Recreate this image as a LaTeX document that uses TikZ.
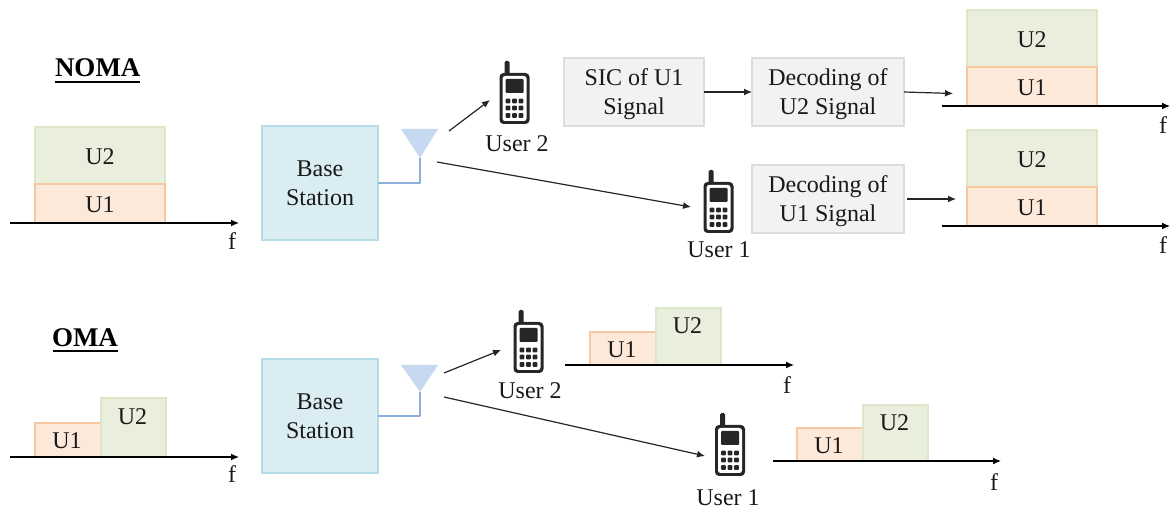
\documentclass[tikz,border=0pt]{standalone}
\usepackage{fontspec}
\setmainfont{Liberation Serif}
\usetikzlibrary{arrows.meta}
\definecolor{grnfill}{HTML}{E9EFDC}
\definecolor{grnline}{HTML}{DCE7C9}
\definecolor{orgfill}{HTML}{FDE9DA}
\definecolor{orgline}{HTML}{F9C79F}
\definecolor{bsfill}{HTML}{DAEDF3}
\definecolor{bsline}{HTML}{B5DDE8}
\definecolor{grayfill}{HTML}{F2F2F2}
\definecolor{grayline}{HTML}{DCDCDC}
\definecolor{antfill}{HTML}{C6D9F1}
\definecolor{antline}{HTML}{8EB0DC}
\definecolor{phonecol}{HTML}{262626}
\tikzset{
  x=1pt,y=-1pt,
  txt/.style={font=\fontsize{24}{29}\selectfont,text=black!90,inner sep=0pt,outer sep=0pt},
  ptxt/.style={txt,align=center,yshift=-2.5pt},
  boxbase/.style={txt,anchor=north west,align=center,line width=1.2pt},
  uone/.style={boxbase,draw=orgline,fill=orgfill},
  utwo/.style={boxbase,draw=grnline,fill=grnfill},
  bs/.style={boxbase,draw=bsline,fill=bsfill,line width=2.4pt,minimum width=116pt,minimum height=114pt},
  proc/.style={boxbase,draw=grayline,fill=grayfill,line width=2.4pt,minimum height=68pt},
  conn/.style={-{Latex[length=8pt,width=7pt]},line width=1.2pt,black!85},
  axisline/.style={-{Latex[length=8pt,width=7pt]},line width=1.3pt,black},
  feed/.style={line width=1.8pt,antline,line join=round},
  ant/.style={fill=antfill,draw=none},
  title/.style={font=\fontsize{27}{30}\selectfont\bfseries,inner sep=0pt,outer sep=0pt},
  rule/.style={line width=2.6pt,black},
  pics/phone/.style={code={
    \fill[phonecol,rounded corners=1.5pt] (-10,-31) rectangle (-5,-17);
    \fill[phonecol,rounded corners=4pt] (-15,-19) rectangle (15,32);
    \fill[white,rounded corners=2.5pt] (-12,-16) rectangle (12,29);
    \fill[phonecol,rounded corners=1pt] (-9,-13) rectangle (9,1);
    \foreach \r in {9,16,23.5}{
      \foreach \c in {-6.5,0,6.5}{
        \fill[phonecol,rounded corners=1pt] (\c-2.4,\r-2.4) rectangle (\c+2.4,\r+2.4);
      }
    }
  }}
}
\newcommand{\stackboxes}[9]{%
  \node[utwo,minimum width=130pt,minimum height=#3-#2] (#5u2) at (#1,#2) {};
  \node[txt] at (#1+65,{(#2+#3)/2+1}) {U2};
  \node[uone,minimum width=130pt,minimum height=#4-#3] (#5u1) at (#1,#3) {};
  \node[txt] at (#1+65,{(#3+#4)/2+1}) {U1};
  \coordinate (#5a) at (#6,#4);
  \coordinate (#5b) at (#7,#4);
  \draw[axisline] (#5a) -- (#5b);
  \node[txt] (#5f) at (#8,#9) {f};
}
\newcommand{\stepboxes}[9]{%
  \node[uone,minimum width=66pt,minimum height=#4-#3] (#5u1) at (#1,#3) {};
  \node[txt] at (#1+32,{(#3+#4)/2+1}) {U1};
  \node[utwo,minimum width=65pt,minimum height=#4-#2] (#5u2) at (#1+66,#2) {};
  \node[txt] at (#1+97.5,{(#2+#3)/2+6}) {U2};
  \coordinate (#5a) at (#6,#4);
  \coordinate (#5b) at (#7,#4);
  \draw[axisline] (#5a) -- (#5b);
  \node[txt] (#5f) at (#8,#9) {f};
}
\begin{document}
\begin{tikzpicture}
\useasboundingbox (0,0) rectangle (1171,510);
% titles
\node[title,anchor=west] (noma) at (55,68) {NOMA};
\coordinate (nomaA) at (55,82);\coordinate (nomaB) at (140,82);
\draw[rule] (nomaA) -- (nomaB);
\node[title,anchor=west] (oma) at (52,338) {OMA};
\coordinate (omaA) at (53,351);\coordinate (omaB) at (118,351);
\draw[rule] (omaA) -- (omaB);
% NOMA
\stackboxes{35}{127}{184}{223}{a}{10}{239}{232}{241}
\node[bs] (bs1) at (262,126) {Base\\Station};
\coordinate (t1a) at (401,129);\coordinate (t1b) at (438,129);\coordinate (t1c) at (420,158);
\fill[ant] (t1a) -- (t1b) -- (t1c) -- cycle;
\draw[feed] (t1c) -- (420,183) -- (bs1.east |- 0,183);
\pic at (514.5,92) {phone};
\coordinate (p2a) at (490,100);
\node[txt] (u2a) at (517,144) {User 2};
\pic at (718.5,201) {phone};
\coordinate (p1a) at (691,207);
\node[txt] (u1a) at (719,250) {User 1};
\coordinate (s1) at (449,131);\coordinate (s2) at (437,162);
\draw[conn] (s1) -- (p2a);
\draw[conn] (s2) -- (p1a);
\node[proc,minimum width=140pt,label={[ptxt]center:{SIC of U1\\Signal}}] (sic) at (564,58) {};
\node[proc,minimum width=152pt,label={[ptxt]center:{Decoding of\\U2 Signal}}] (d2) at (752,58) {};
\node[proc,minimum width=152pt,label={[ptxt]center:{Decoding of\\U1 Signal}}] (d1) at (752,165) {};
\stackboxes{967}{10}{67}{106}{b}{942}{1170}{1163}{125}
\stackboxes{967}{130}{187}{226}{c}{942}{1170}{1163}{245}
\coordinate (r2) at (953,93.5);\coordinate (r1) at (956,199);
\draw[conn] (sic.east) -- (d2.west);
\draw[conn] (d2.east) -- (r2);
\draw[conn,shorten <=3pt] (d1.east) -- (r1);
% OMA
\stepboxes{35}{398}{423}{457}{d}{10}{239}{232}{474}
\node[bs] (bs2) at (262,359) {Base\\Station};
\coordinate (t2a) at (401,365);\coordinate (t2b) at (438,365);\coordinate (t2c) at (420,392);
\fill[ant] (t2a) -- (t2b) -- (t2c) -- cycle;
\draw[feed] (t2c) -- (420,416) -- (bs2.east |- 0,416);
\pic at (528.5,341) {phone};
\coordinate (p2b) at (501,350);
\node[txt] (u2b) at (530,391) {User 2};
\pic at (730,444) {phone};
\coordinate (p1b) at (705,456);
\node[txt] (u1b) at (728,498) {User 1};
\coordinate (s3) at (444,373);\coordinate (s4) at (444,397);
\draw[conn] (s3) -- (p2b);
\draw[conn] (s4) -- (p1b);
\stepboxes{590}{308}{332}{365}{e}{565}{794}{787}{385}
\stepboxes{797}{405}{428}{461}{f}{773}{1001}{994}{482}
\end{tikzpicture}
\end{document}
